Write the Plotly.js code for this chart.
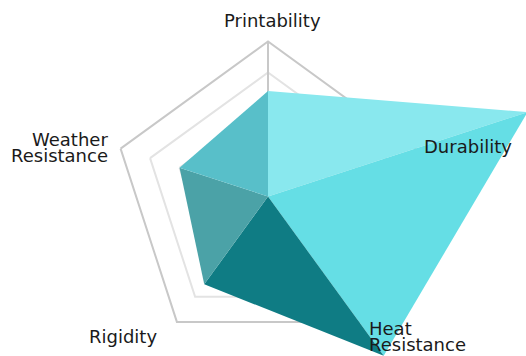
<!DOCTYPE html>
<html>
<head>
<meta charset="utf-8">
<script src="https://cdn.plot.ly/plotly-3.0.1.min.js"></script>
<style>
  html, body { margin: 0; padding: 0; background: #fff; }
  #radarChart { width: 526px; height: 356px; }
</style>
</head>
<body>
<div id="radarChart"></div>
<script>
  let categories = ["Printability", "Durability", "Heat Resistance", "Rigidity", "Weather Resistance"];
  let scores = [3.4, 8.8, 6.35, 3.5, 3.0];
  let sliceColors = ["#89e8ee", "#65dee5", "#0f7c84", "#4ba2a7", "#58bfc9"];

  // where each label sits (pixels) and how it is anchored
  let labelSpots = [
    { x: 272, y: 21, anchor: "center" },
    { x: 468, y: 146, anchor: "center" },
    { x: 367, y: 328, anchor: "left" },
    { x: 123, y: 336, anchor: "center" },
    { x: 110, y: 139, anchor: "right" }
  ];

  document.addEventListener("DOMContentLoaded", function() {
    drawRadarChart();
  });

  function drawRadarChart() {
    let W = 526, H = 356;
    let traces = [];

    // one filled wedge per pair of neighbouring axes
    for (let i = 0; i < categories.length; i++) {
      let j = (i + 1) % categories.length;
      traces.push({
        type: "scatterpolar",
        r: [0, scores[i], scores[j], 0],
        theta: [categories[i], categories[i], categories[j], categories[i]],
        mode: "lines",
        fill: "toself",
        fillcolor: sliceColors[i],
        line: { width: 0, color: sliceColors[i] },
        cliponaxis: false,
        hoverinfo: "skip",
        showlegend: false
      });
    }

    let annotations = [];
    categories.forEach(function(cat, i) {
      let spot = labelSpots[i];
      let lines = cat.indexOf(" ") > 0 ? cat.split(" ") : [cat];
      lines.forEach(function(line, k) {
        annotations.push({
          text: line,
          xref: "paper", yref: "paper",
          x: spot.x / W,
          y: 1 - (spot.y + k * 16) / H,
          xanchor: spot.anchor,
          yanchor: "middle",
          showarrow: false,
          font: { family: "DejaVu Sans", size: 18, color: "#1a1a1a" }
        });
      });
    });

    let layout = {
      width: W,
      height: H,
      margin: { l: 0, r: 0, t: 0, b: 0 },
      paper_bgcolor: "#fff",
      showlegend: false,
      polar: {
        domain: { x: [113 / W, 423 / W], y: [4.5 / H, 314.5 / H] },
        gridshape: "linear",
        bgcolor: "rgba(0,0,0,0)",
        radialaxis: {
          range: [0, 5],
          dtick: 1,
          angle: 90,
          showticklabels: false,
          ticks: "",
          showline: true,
          linecolor: "#c8c8c8",
          linewidth: 2,
          gridcolor: "#e3e3e3",
          gridwidth: 2,
          layer: "below traces"
        },
        angularaxis: {
          direction: "clockwise",
          rotation: 90,
          showticklabels: false,
          ticks: "",
          showgrid: false,
          showline: true,
          linecolor: "#c8c8c8",
          linewidth: 2,
          layer: "below traces"
        }
      },
      annotations: annotations
    };

    Plotly.newPlot("radarChart", traces, layout, { displayModeBar: false, staticPlot: true }).then(function(gd) {
      // the wedges run past the outer ring, so let them spill over the frame
      gd.querySelectorAll(".polarlayer [clip-path]").forEach(function(el) {
        el.removeAttribute("clip-path");
      });
    });
  }
</script>
</body>
</html>
